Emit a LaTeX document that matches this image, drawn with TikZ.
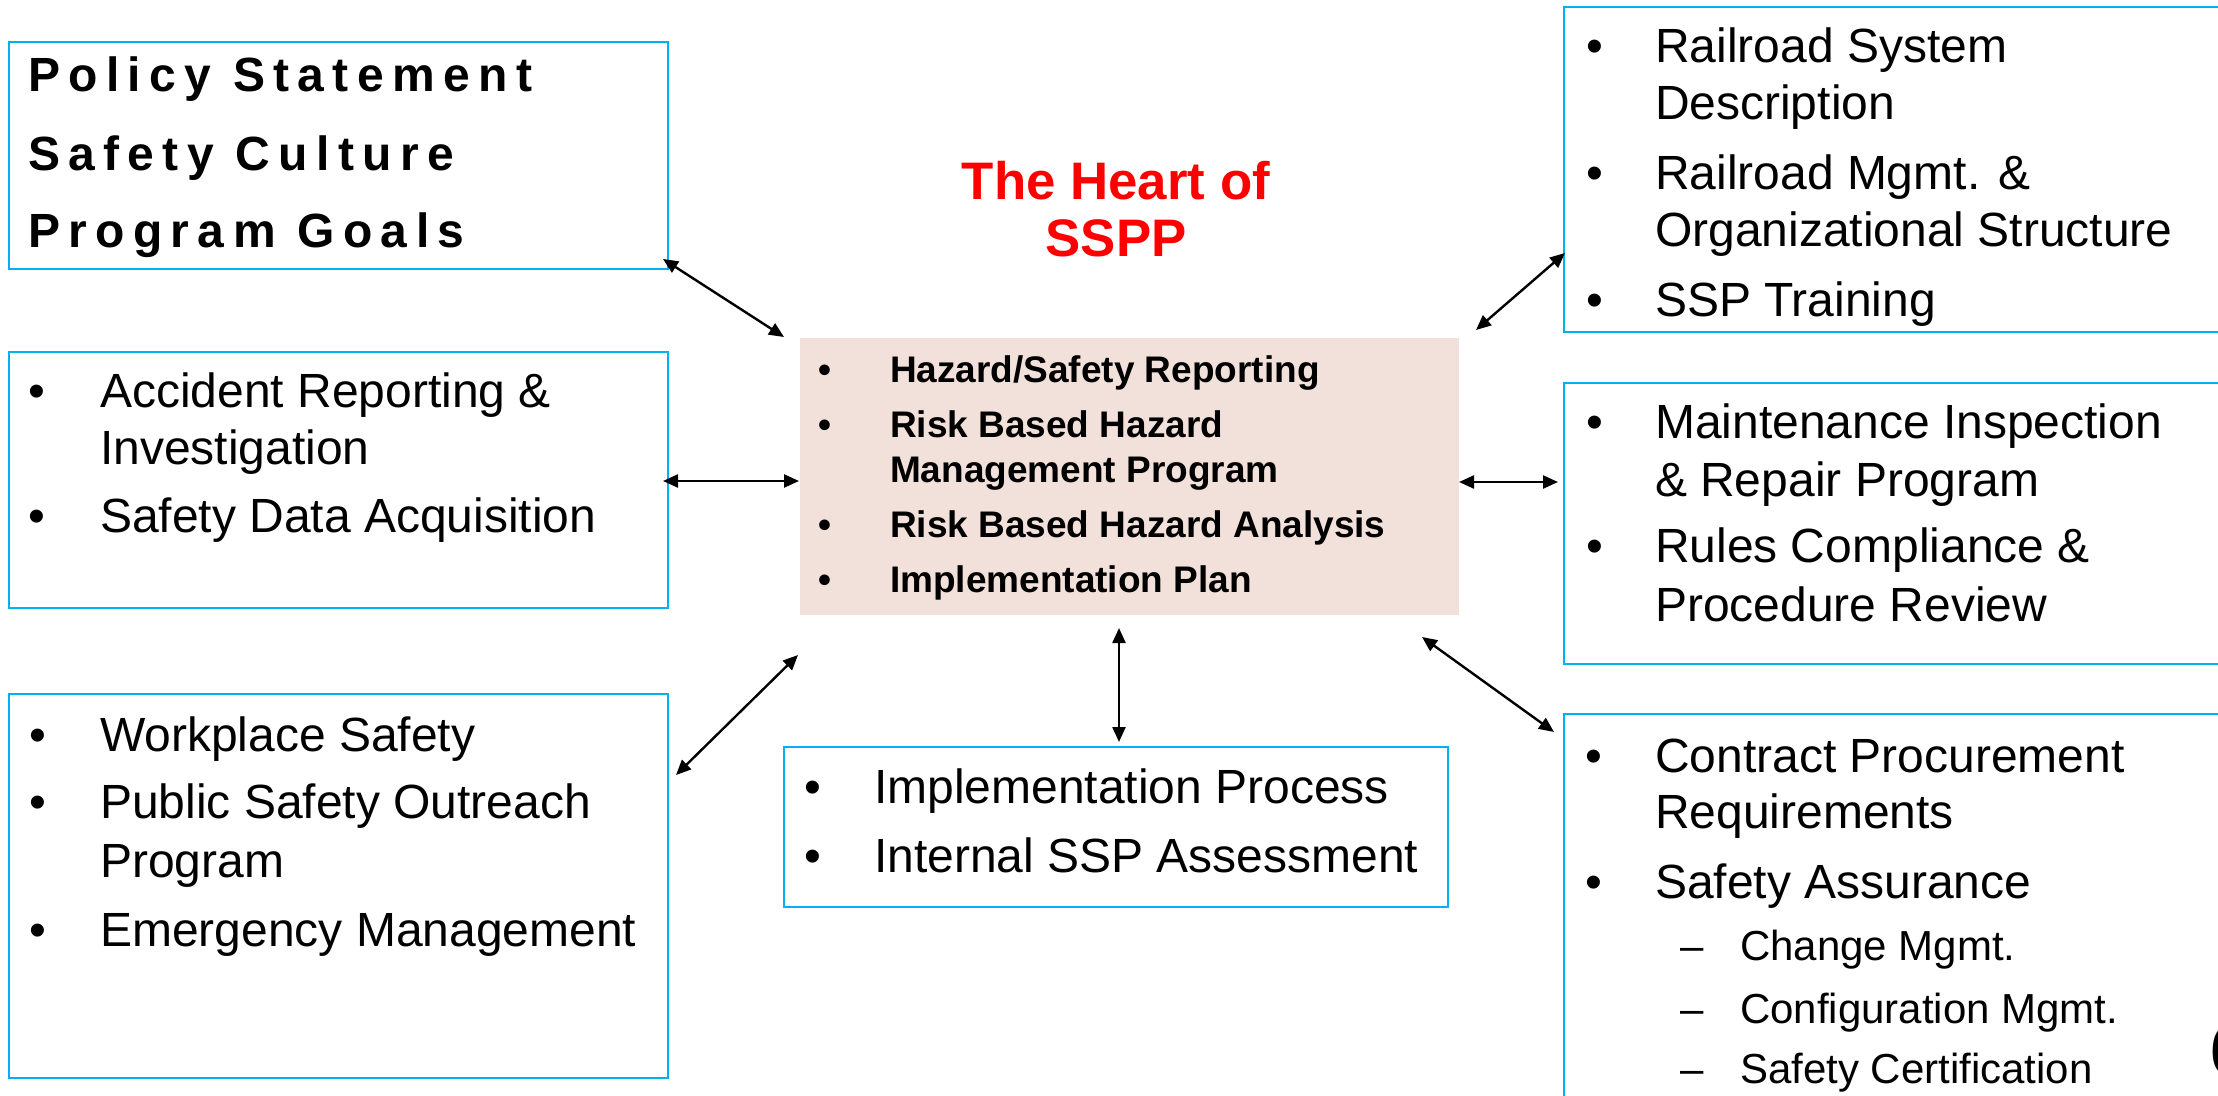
\documentclass[tikz,border=0pt]{standalone}
\usepackage{fontspec}
\setmainfont{Liberation Sans}
\newfontfamily\spacedfont[LetterSpace=17.5]{Liberation Sans}
\usetikzlibrary{arrows.meta,fit}
\definecolor{framecol}{RGB}{0,176,240}
\definecolor{heartbg}{RGB}{242,225,218}
\definecolor{titlered}{RGB}{255,0,0}
\newcommand\Bul[5]{\node[#1] (#2-b) at (#3) {•};\node[#1] (#2) at (#4) {#5};}
\newcommand\Sub[4]{\node[subtxt] (#1-d) at (#2) {–};\node[subtxt] (#1) at (#3) {#4};}
\begin{document}
\begin{tikzpicture}[x=0.5pt,y=-0.5pt,
  frame/.style={draw=framecol,line width=1.2pt,inner sep=0pt,outer sep=0pt},
  txt/.style={anchor=base west,inner sep=0pt,outer sep=0pt,font=\fontsize{24}{28}\selectfont},
  subtxt/.style={txt,font=\fontsize{21}{25}\selectfont},
  ctxt/.style={txt,font=\fontsize{18.5}{22}\selectfont\bfseries},
  goal/.style={txt,font=\spacedfont\bfseries\fontsize{24}{28}\selectfont},
  title/.style={anchor=base,inner sep=0pt,text=titlered,font=\fontsize{26.4}{30}\selectfont\bfseries},
  link/.style={{Triangle[length=7.5pt,width=6.5pt]}-{Triangle[length=7.5pt,width=6.5pt]},line width=1.2pt,draw=black},
]
\useasboundingbox (0,0) rectangle (2218,1096);

% boxes
\node[frame,fit={(9,42)(668,269)}] (boxA) {};
\node[frame,fit={(9,352)(668,608)}] (boxB) {};
\node[frame,fit={(9,694)(668,1078)}] (boxC) {};
\node[fill=heartbg,inner sep=0pt,outer sep=0pt,fit={(800,338)(1459,615)}] (heart) {};
\node[frame,fit={(784,747)(1448,907)}] (boxD) {};
\node[frame,fit={(1564,7)(2240,332)}] (boxE) {};
\node[frame,fit={(1564,383)(2240,664)}] (boxF) {};
\node[frame,fit={(1564,714)(2240,1120)}] (boxG) {};

% box A
\node[goal] (a1) at (28,92) {Policy Statement};
\node[goal] (a2) at (28,171) {Safety Culture};
\node[goal] (a3) at (28,248) {Program Goals};

% box B
\Bul{txt}{b1}{28,408}{100,408}{Accident Reporting \&}
\node[txt] (b1x) at (100,465) {Investigation};
\Bul{txt}{b2}{28,533}{100,533}{Safety Data Acquisition}

% box C
\Bul{txt}{c1}{29,751}{100,751}{Workplace Safety}
\Bul{txt}{c2}{29,818}{100,818}{Public Safety Outreach}
\node[txt] (c2x) at (100,877) {Program};
\Bul{txt}{c3}{29,946}{100,946}{Emergency Management}

% title
\node[title] (t1) at (1116,200) {The Heart of};
\node[title] (t2) at (1116,257) {SSPP};

% heart box
\Bul{ctxt}{h1}{818,383}{890,383}{Hazard/Safety Reporting}
\Bul{ctxt}{h2}{818,438}{890,438}{Risk Based Hazard}
\node[ctxt] (h2x) at (890,483) {Management Program};
\Bul{ctxt}{h3}{818,538}{890,538}{Risk Based Hazard Analysis}
\Bul{ctxt}{h4}{818,593}{890,593}{Implementation Plan}

% box D
\Bul{txt}{d1}{804,803}{874,803}{Implementation Process}
\Bul{txt}{d2}{804,872}{874,872}{Internal SSP Assessment}

% box E
\Bul{txt}{e1}{1586,63}{1655,63}{Railroad System}
\node[txt] (e1x) at (1655,120) {Description};
\Bul{txt}{e2}{1586,190}{1655,190}{Railroad Mgmt. \&}
\node[txt] (e2x) at (1655,247) {Organizational Structure};
\Bul{txt}{e3}{1586,317}{1655,317}{SSP Training}

% box F
\Bul{txt}{f1}{1586,439}{1655,439}{Maintenance Inspection}
\node[txt] (f1x) at (1655,497) {\& Repair Program};
\Bul{txt}{f2}{1586,563}{1655,563}{Rules Compliance \&}
\node[txt] (f2x) at (1655,622) {Procedure Review};

% box G
\Bul{txt}{g1}{1585,772}{1655,772}{Contract Procurement}
\node[txt] (g1x) at (1655,828) {Requirements};
\Bul{txt}{g2}{1585,898}{1655,898}{Safety Assurance}
\Sub{g3}{1680,960}{1740,960}{Change Mgmt.}
\Sub{g4}{1680,1023}{1740,1023}{Configuration Mgmt.}
\Sub{g5}{1680,1083}{1740,1083}{Safety Certification}

% page number (cut off at the right edge, as in the reference)
\node[txt,font=\fontsize{36}{40}\selectfont] (pagenum) at (2209,1075) {6};

% connectors
\coordinate (eA) at (663,259);   \coordinate (eAh) at (784,337);
\coordinate (eB) at (663,481);   \coordinate (eBh) at (799,481);
\coordinate (eC) at (676,775);   \coordinate (eCh) at (798,655);
\coordinate (eDh) at (1119,628); \coordinate (eD) at (1119,742);
\coordinate (eGh) at (1422,637); \coordinate (eG) at (1554,732);
\coordinate (eFh) at (1459,482); \coordinate (eF) at (1558,482);
\coordinate (eEh) at (1476,330); \coordinate (eE) at (1565,253);
\draw[link] (eA) -- (eAh);
\draw[link] (eB) -- (eBh);
\draw[link] (eC) -- (eCh);
\draw[link] (eDh) -- (eD);
\draw[link] (eGh) -- (eG);
\draw[link] (eFh) -- (eF);
\draw[link] (eEh) -- (eE);
\end{tikzpicture}
\end{document}
